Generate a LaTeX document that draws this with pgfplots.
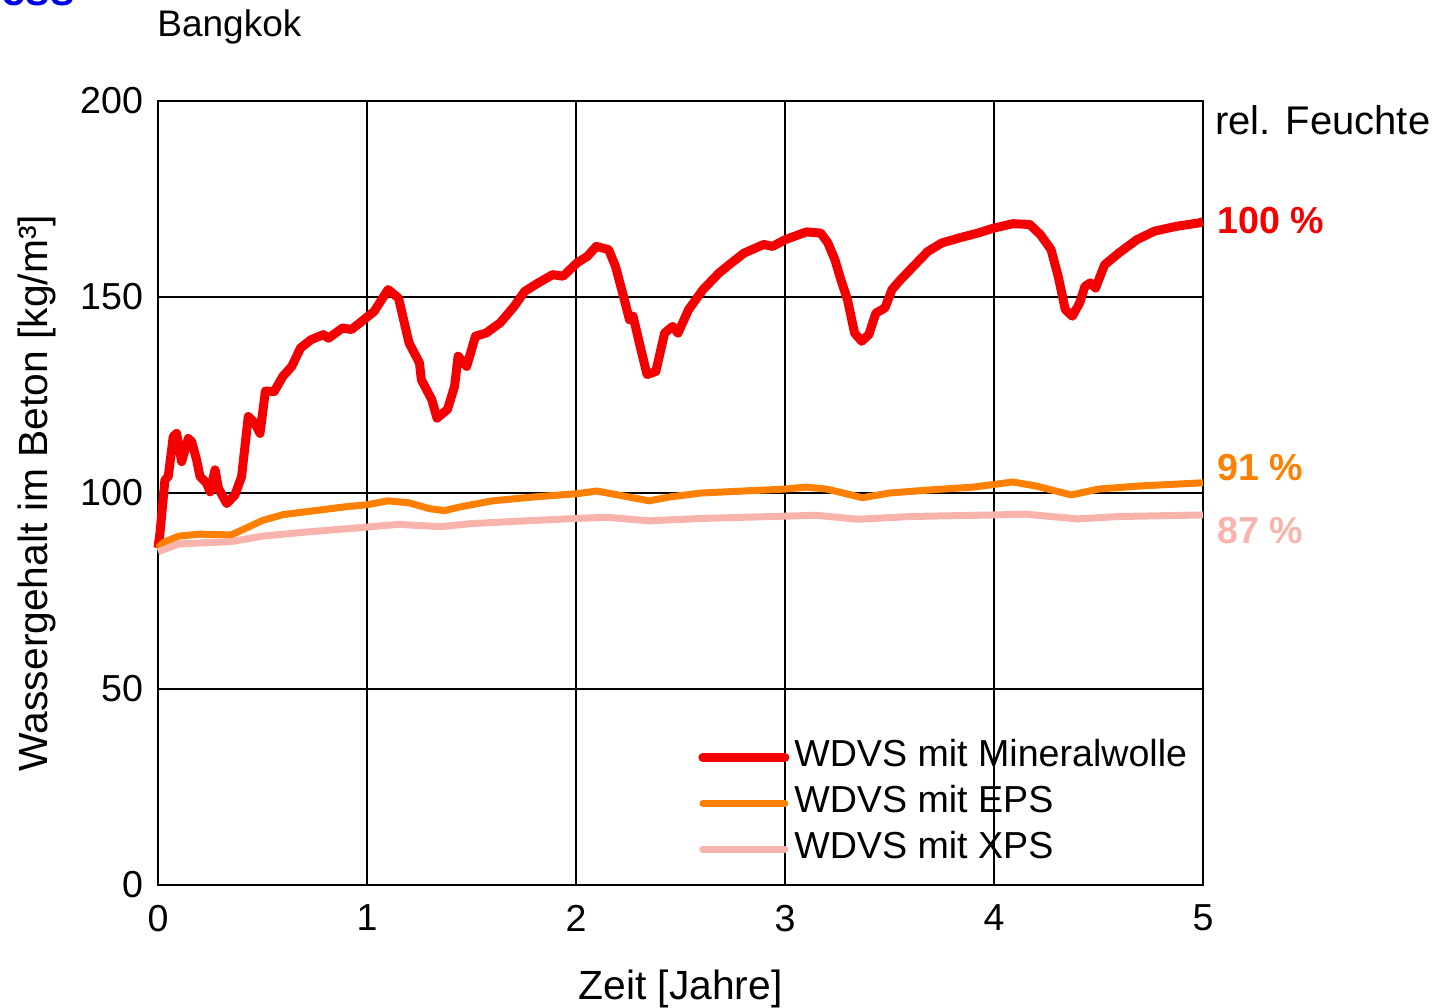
\documentclass[border=0pt]{standalone}
\usepackage{pgfplots}
\pgfplotsset{compat=1.18}
\usepackage{fontspec}
\setmainfont{Liberation Sans}
\definecolor{cred}{RGB}{245,0,0}
\definecolor{corange}{RGB}{255,128,0}
\definecolor{cpink}{RGB}{248,180,172}
\definecolor{cblue}{RGB}{0,0,230}
\newcommand{\fs}{\fontsize{18.8bp}{22bp}\selectfont}
\newcommand{\fl}{\fontsize{20.4bp}{24bp}\selectfont}
\begin{document}
\begin{tikzpicture}
\useasboundingbox (0,0) rectangle (719.5bp,504bp);
\node[anchor=base east, inner sep=0pt, text=cblue, font=\fontsize{22bp}{24bp}\selectfont\bfseries] at (37.5bp,501bp) {ess};
\node[anchor=base west, inner sep=0pt, font=\fontsize{18.5bp}{22bp}\selectfont] at (78.5bp,485.5bp) {Bangkok};
\begin{axis}[
  at={(79bp,61.5bp)}, anchor=south west,
  scale only axis, width=522.5bp, height=392bp,
  xmin=0, xmax=5, ymin=0, ymax=200,
  xtick={0,1,2,3,4,5}, ytick={0,50,100,150,200},
  major tick length=0pt,
  grid=major,
  major grid style={black, line width=0.7bp},
  axis line style={black, line width=1.4bp},
  tick label style={font=\fs},
  /pgf/number format/assume math mode=true,
  xticklabel style={yshift=-6.5bp},
  yticklabel style={xshift=-4bp},
  xlabel={Zeit [Jahre]},
  ylabel={Wassergehalt im Beton [kg/m³]},
  label style={font=\fl},
  xlabel style={at={(axis description cs:0.5,-0.1276)}, anchor=center, yshift=-2bp},
  ylabel style={at={(axis description cs:-0.1158,0.5)}, anchor=center},
  clip=false,
  legend cell align=left,
  legend style={draw=none, fill=none, inner sep=0pt, font=\fs,
    at={(axis description cs:0.5167,0.1835)}, anchor=north west,
    row sep=7bp,
    nodes={inner ysep=0pt, inner xsep=2.5bp, text height=12.5bp, text depth=3.5bp}},
  legend image code/.code={\draw[#1, line cap=round] (0bp,0bp) -- (41bp,0bp);},
]
\addplot[cred, line width=4.5bp, line join=round] coordinates {
(0.000,86)(0.010,90)(0.033,103.3)(0.049,104.2)(0.073,114.4)(0.089,115.2)(0.113,108)(0.145,113.9)(0.161,113.1)(0.185,108.4)(0.201,104.2)(0.233,102.5)(0.249,100.3)(0.273,105.9)(0.289,101.2)(0.329,97.3)(0.368,99.5)(0.400,104.2)(0.432,119.5)(0.464,117.8)(0.488,115.2)(0.514,126.0)(0.556,125.9)(0.598,129.8)(0.640,132.3)(0.682,137.0)(0.732,139.1)(0.791,140.4)(0.816,139.5)(0.883,142.1)(0.925,141.7)(0.966,143.4)(1.034,146.3)(1.101,151.9)(1.151,149.7)(1.201,138.3)(1.251,133.2)(1.260,128.9)(1.310,123.8)(1.335,119.1)(1.385,121.3)(1.419,127.2)(1.436,134.9)(1.477,132.3)(1.519,140.0)(1.570,140.8)(1.637,143.4)(1.704,147.6)(1.754,151.4)(1.804,153.1)(1.888,155.7)(1.938,155.3)(2.005,158.7)(2.055,160.4)(2.097,162.9)(2.156,162.1)(2.189,157.8)(2.223,151.0)(2.256,144.2)(2.273,145.1)(2.307,137.4)(2.340,130.2)(2.382,131.0)(2.424,140.8)(2.462,142.5)(2.488,140.8)(2.539,146.8)(2.608,151.9)(2.684,156.1)(2.744,158.7)(2.804,161.2)(2.898,163.4)(2.940,162.9)(3.000,164.6)(3.102,166.6)(3.171,166.3)(3.205,163.8)(3.239,159.5)(3.265,154.8)(3.299,149.3)(3.333,140.8)(3.367,138.7)(3.401,140.4)(3.435,145.9)(3.478,147.2)(3.512,151.9)(3.546,154.0)(3.614,157.8)(3.683,161.6)(3.751,163.8)(3.836,165.1)(3.922,166.3)(4.000,167.6)(4.092,168.7)(4.171,168.5)(4.222,165.9)(4.273,162.1)(4.307,155.3)(4.341,146.8)(4.375,145.1)(4.410,148.5)(4.435,152.7)(4.461,153.6)(4.486,152.3)(4.529,158.2)(4.597,161.2)(4.683,164.6)(4.768,166.8)(4.870,168.0)(4.981,168.9)(5.000,169.2)
};
\addlegendentry{WDVS mit Mineralwolle}
\addplot[corange, line width=3.5bp, line join=round] coordinates {
(0,86)(0.03,87.5)(0.1,89)(0.2,89.5)(0.35,89.3)(0.42,91)(0.5,93)(0.6,94.5)(0.75,95.5)(0.9,96.5)(1.0,97)(1.1,98)(1.2,97.5)(1.3,96)(1.37,95.5)(1.45,96.5)(1.6,98)(1.8,99)(2.0,99.8)(2.1,100.5)(2.2,99.5)(2.35,98)(2.45,99)(2.6,100)(2.8,100.5)(3.0,101)(3.1,101.5)(3.2,101)(3.37,98.8)(3.5,100)(3.7,100.8)(3.9,101.5)(4.09,102.8)(4.2,101.8)(4.37,99.5)(4.5,101)(4.7,101.8)(4.85,102.2)(5.0,102.6)
};
\addlegendentry{WDVS mit EPS}
\addplot[cpink, line width=3.5bp, line join=round] coordinates {
(0,85)(0.1,87)(0.35,87.6)(0.5,89)(0.7,90)(1.0,91.3)(1.15,92)(1.35,91.4)(1.5,92.2)(1.8,93)(2.0,93.5)(2.15,93.8)(2.35,92.9)(2.6,93.5)(3.0,94.1)(3.15,94.3)(3.35,93.3)(3.6,94)(4.0,94.4)(4.15,94.6)(4.4,93.4)(4.6,94)(5.0,94.4)
};
\addlegendentry{WDVS mit XPS}
\node[anchor=west, inner sep=0pt, font=\fontsize{20bp}{24bp}\selectfont] at (axis description cs:1,0.9758) [xshift=6bp] {rel. Feuchte};
\node[anchor=west, inner sep=0pt, font=\fs\bfseries, text=cred] at (axis description cs:1,0.848) [xshift=7bp] {100 \%};
\node[anchor=west, inner sep=0pt, font=\fs\bfseries, text=corange] at (axis description cs:1,0.533) [xshift=7bp] {91 \%};
\node[anchor=west, inner sep=0pt, font=\fs\bfseries, text=cpink] at (axis description cs:1,0.4515) [xshift=7bp] {87 \%};
\end{axis}
\end{tikzpicture}
\end{document}
